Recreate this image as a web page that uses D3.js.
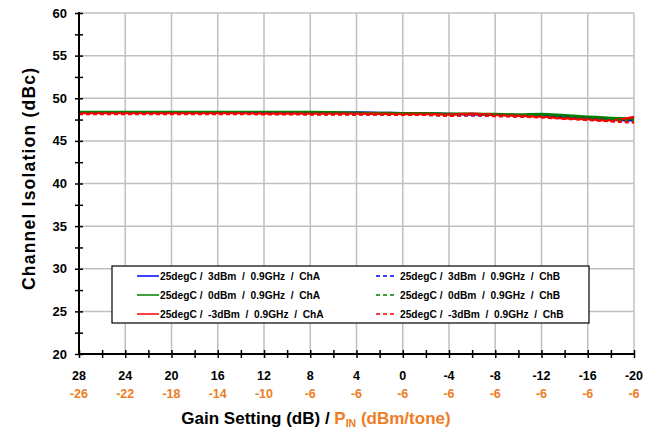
<!DOCTYPE html>
<html><head><meta charset="utf-8">
<script src="https://cdn.jsdelivr.net/npm/d3@7"></script>
<style>body{margin:0;background:#fff}svg{display:block}text{font-family:Arial,"Liberation Sans",sans-serif;font-weight:bold}</style>
</head><body><svg id="c" width="657" height="435"></svg>
<script>
const gain = [28,26,24,22,20,18,16,14,12,10,8,6,4,2,0,-2,-4,-6,-8,-10,-12,-14,-16,-18,-20];
const gainTicks = [28,24,20,16,12,8,4,0,-4,-8,-12,-16,-20];
const pinTicks = [-26,-22,-18,-14,-10,-6,-6,-6,-6,-6,-6,-6,-6];
const yTicks = [20,25,30,35,40,45,50,55,60];
const blueA  = [48.35,48.35,48.35,48.35,48.35,48.35,48.35,48.33,48.33,48.32,48.32,48.3,48.32,48.28,48.25,48.22,48.15,48.1,48.05,48.0,47.95,47.85,47.7,47.5,47.4];
const greenA = [48.4,48.4,48.4,48.4,48.4,48.4,48.4,48.4,48.38,48.38,48.38,48.35,48.3,48.28,48.25,48.25,48.2,48.2,48.15,48.1,48.15,48.0,47.85,47.7,47.6];
const redA   = [48.25,48.25,48.25,48.25,48.25,48.25,48.25,48.25,48.22,48.22,48.2,48.2,48.2,48.18,48.15,48.15,48.1,48.2,48.05,47.95,47.85,47.65,47.55,47.4,47.8];
const blueB  = [48.2,48.2,48.2,48.2,48.2,48.2,48.2,48.2,48.18,48.18,48.15,48.15,48.15,48.12,48.1,48.05,48.0,48.0,47.95,47.9,47.85,47.7,47.55,47.35,47.3];
const greenB = [48.22,48.22,48.22,48.22,48.22,48.22,48.22,48.2,48.2,48.2,48.18,48.18,48.15,48.15,48.12,48.1,48.05,48.05,48.0,47.95,47.9,47.75,47.6,47.45,47.35];
const redB   = [48.15,48.15,48.15,48.15,48.15,48.15,48.15,48.15,48.12,48.12,48.1,48.1,48.1,48.08,48.05,48.05,47.95,48.0,47.9,47.85,47.75,47.6,47.45,47.3,47.15];
const seriesNames = ["25degC /  3dBm  /  0.9GHz  /  ChA","25degC /  0dBm  /  0.9GHz  /  ChA","25degC /  -3dBm  /  0.9GHz  /  ChA",
                     "25degC /  3dBm  /  0.9GHz  /  ChB","25degC /  0dBm  /  0.9GHz  /  ChB","25degC /  -3dBm  /  0.9GHz  /  ChB"];
const seriesColors = ["#0000ff","#008000","#ff0000","#0000ff","#008000","#ff0000"];
const seriesData = [blueA,greenA,redA,blueB,greenB,redB];
const seriesDash = [false,false,false,true,true,true];

const svg = d3.select("#c");
const L=79,R=634,T=13,B=354;
const x = d3.scaleLinear().domain([28,-20]).range([L,R]);
const y = d3.scaleLinear().domain([20,60]).range([B,T]);
const orange = "#ee7d22";

// grid
const g = svg.append("g");
g.selectAll(".vg").data(gainTicks.slice(1)).join("line")
  .attr("x1",d=>x(d)).attr("x2",d=>x(d)).attr("y1",T).attr("y2",B)
  .attr("stroke","#c0c0c0").attr("stroke-width",1.5);
g.selectAll(".hg").data(yTicks.slice(1)).join("line")
  .attr("x1",L).attr("x2",R).attr("y1",d=>y(d)).attr("y2",d=>y(d))
  .attr("stroke","#c0c0c0").attr("stroke-width",1.5);

// lines
const line = d3.line().x((d,i)=>x(gain[i])).y(d=>y(d)).curve(d3.curveMonotoneX);
seriesData.forEach((s,k)=>{
  svg.append("path").datum(s).attr("d",line).attr("fill","none")
    .attr("stroke",seriesColors[k]).attr("stroke-width",2.4)
    .attr("stroke-dasharray",seriesDash[k]?"4,3":null);
});

// axes
const yAx = d3.axisLeft(y).tickValues(d3.range(20,60.01,2.5)).tickSize(0).tickFormat("");
const ya = svg.append("g").attr("transform",`translate(${L},0)`).call(yAx);
ya.select(".domain").remove();
ya.selectAll(".tick").append("line").attr("x1",-4).attr("x2",4).attr("stroke","#000").attr("stroke-width",1.5);
svg.append("line").attr("x1",L).attr("x2",L).attr("y1",T-1).attr("y2",B+1).attr("stroke","#000").attr("stroke-width",2);
svg.selectAll(".yl").data(yTicks).join("text").attr("x",L-12).attr("y",d=>y(d)+4.5)
  .attr("text-anchor","end").attr("font-size",13).text(d=>d);

const xAx = d3.axisBottom(x).tickValues(d3.range(28,-20.01,-2)).tickSize(0).tickFormat("");
const xa = svg.append("g").attr("transform",`translate(0,${B})`).call(xAx);
xa.select(".domain").remove();
xa.selectAll(".tick").append("line").attr("y1",-4).attr("y2",4).attr("stroke","#000").attr("stroke-width",1.5);
svg.append("line").attr("x1",L-1).attr("x2",R+1).attr("y1",B).attr("y2",B).attr("stroke","#000").attr("stroke-width",2);
svg.selectAll(".xl").data(gainTicks).join("text").attr("x",d=>x(d)).attr("y",380)
  .attr("text-anchor","middle").attr("font-size",12.5).text(d=>d);
svg.selectAll(".pl").data(pinTicks).join("text").attr("x",(d,i)=>x(gainTicks[i])).attr("y",398)
  .attr("text-anchor","middle").attr("font-size",12.5).attr("fill",orange).text(d=>d);

// titles
const xt = svg.append("text").attr("x",316).attr("y",424).attr("text-anchor","middle").attr("font-size",17);
xt.append("tspan").text("Gain Setting (dB) / ");
xt.append("tspan").attr("fill",orange).text("P");
xt.append("tspan").attr("fill",orange).attr("font-size",10.5).attr("dy",3).text("IN");
xt.append("tspan").attr("fill",orange).attr("dy",-3).text(" (dBm/tone)");
svg.append("text").attr("transform","translate(35,179) rotate(-90)").attr("text-anchor","middle")
  .attr("font-size",17.5).attr("textLength",222).attr("lengthAdjust","spacing").text("Channel Isolation (dBc)");

// legend
const lg = svg.append("g");
lg.append("rect").attr("x",112).attr("y",266).attr("width",477).attr("height",57)
  .attr("fill","#fff").attr("stroke","#000").attr("stroke-width",1.2);
const rows=[276,295,314];
seriesNames.forEach((n,k)=>{
  const col = k<3?0:1, r=k%3;
  const lx = col===0?137:376, tx = col===0?160:400;
  lg.append("line").attr("x1",lx).attr("x2",lx+(col===0?22:20)).attr("y1",rows[r]).attr("y2",rows[r])
    .attr("stroke",seriesColors[k]).attr("stroke-width",1.5).attr("stroke-dasharray",seriesDash[k]?"4,3":null);
  lg.append("text").attr("x",tx).attr("y",rows[r]+3.5).attr("font-size",10.2).attr("xml:space","preserve")
    .style("white-space","pre").text(n);
});
</script></body></html>
